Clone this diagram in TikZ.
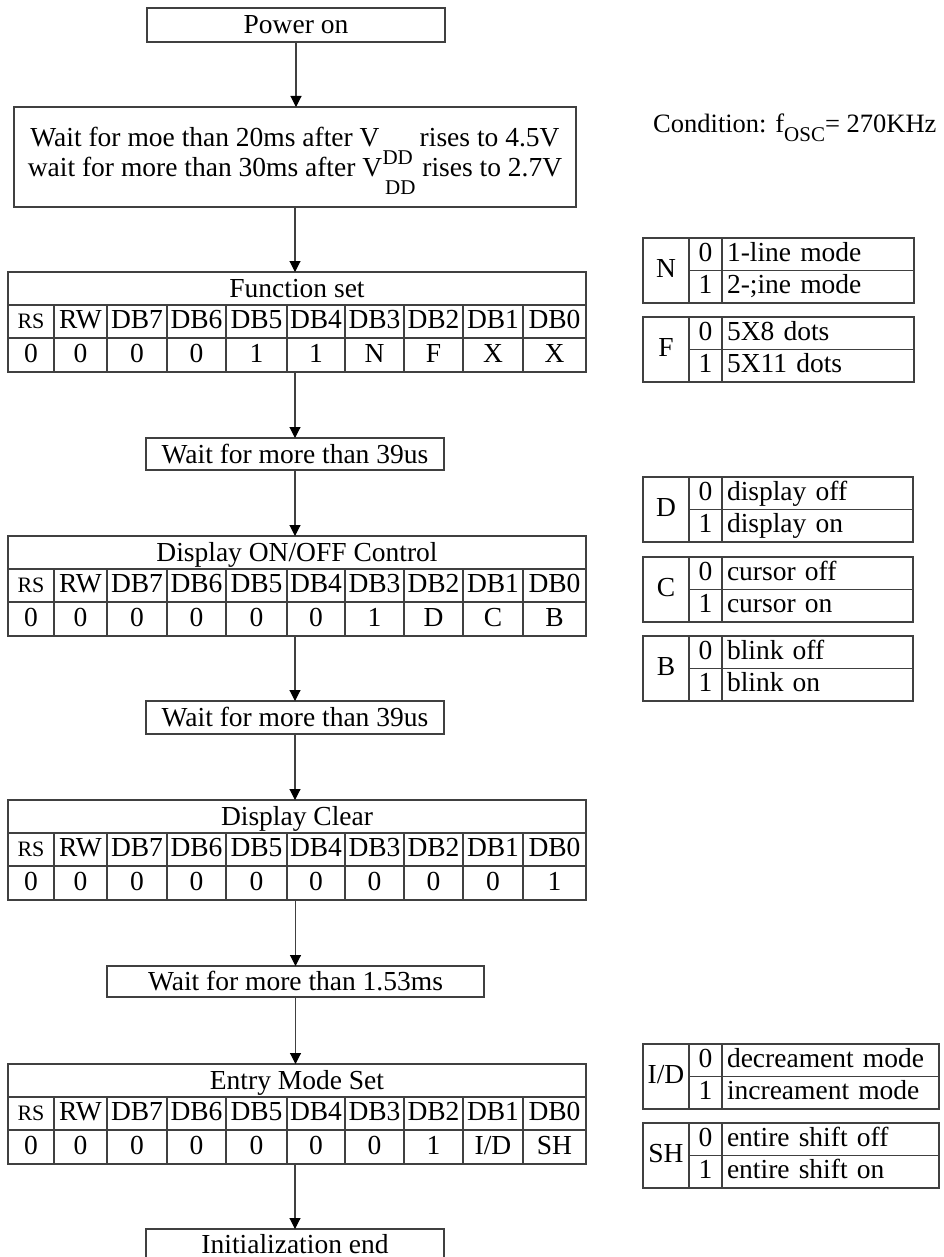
\documentclass[tikz,border=0pt]{standalone}
\usepackage{fontspec}
\setmainfont{Liberation Serif}
\usetikzlibrary{arrows.meta}
\newcommand\sub[2][9pt]{\raisebox{-#1}[0pt][0pt]{\fontsize{21pt}{21pt}\selectfont #2}}
\def\colx{{8,54,107,167,226,287,345,404,463,523,586}}

\begin{document}
\begin{tikzpicture}[x=1pt,y=-1pt,
    every node/.style={font=\fontsize{27.5pt}{30pt}\selectfont,inner sep=0pt},
    frame/.style={draw=black!75,line width=1.1pt,outer sep=0pt,anchor=north west},
    cell/.style={frame,minimum height=33pt,text height=19.5pt,text depth=5.5pt},
    title/.style={cell,text height=21pt,text depth=3pt},
    box/.style={title,minimum width=298pt},
    flow/.style={draw=black!75,line width=1.1pt,-{Triangle[width=11pt,length=11pt,color=black]}}]
\useasboundingbox (0,0) rectangle (944,1257);
\clip (0,0) rectangle (944,1257);
\node [box,minimum height=34pt] (pwr) at (147,8) {Power on};
\node [frame,minimum width=562pt,minimum height=100pt,align=center,text depth=10pt] (wait) at (14,107)
    {Wait for moe than 20ms after V\kern3pt\sub[18pt]{DD} rises to 4.5V\\wait for more than 30ms after V\kern3pt\sub[18pt]{DD} rises to 2.7V};
\node [anchor=base west,font=\fontsize{26.5pt}{30pt}\selectfont] (cond) at (653,133) {Condition: f\sub{OSC}= 270KHz};
\node [box,minimum height=32pt] (w39a) at (146,438) {Wait for more than 39us};
\node [box] (w39b) at (146,701) {Wait for more than 39us};
\node [box,minimum width=377pt,minimum height=31pt] (w153) at (107,966) {Wait for more than 1.53ms};
\node [box,text depth=5pt] (iend) at (146,1229) {Initialization end};
\foreach \t/\nm/\ttl/\vals in {
    272/fset/{Function set}/{0,0,0,0,1,1,N,F,X,X},
    536/dctl/{Display ON/OFF Control}/{0,0,0,0,0,0,1,D,C,B},
    800/dclr/{Display Clear}/{0,0,0,0,0,0,0,0,0,1},
    1064/emode/{Entry Mode Set}/{0,0,0,0,0,0,0,1,{I/D},SH}}{
    \node [title,minimum width=578pt] (\nm) at (8,\t) {\ttl};
    \foreach \h [count=\i] in {{\fontsize{22pt}{22pt}\selectfont RS},RW,DB7,DB6,DB5,DB4,DB3,DB2,DB1,DB0}{
        \pgfmathsetmacro\xa{\colx[\i-1]}
        \pgfmathsetmacro\cw{\colx[\i]-\colx[\i-1]}
        \node [cell,minimum width=\cw pt] (\nm-h\i) at (\xa,\t+33) {\h};
    }
    \foreach \v [count=\i] in \vals {
        \pgfmathsetmacro\xa{\colx[\i-1]}
        \pgfmathsetmacro\cw{\colx[\i]-\colx[\i-1]}
        \node [cell,minimum width=\cw pt,minimum height=34pt] (\nm-v\i) at (\xa,\t+66) {\v};
    }
}
\foreach \t/\nm/\k/\za/\zb/\r in {
    238/N/N/{1-line mode}/{2-;ine mode}/914,
    317/F/F/{5X8 dots}/{5X11 dots}/914,
    477/D/D/{display off}/{display on}/913,
    557/C/C/{cursor off}/{cursor on}/913,
    636/B/B/{blink off}/{blink on}/913,
    1044/ID/{I/D}/{decreament mode}/{increament mode}/939,
    1123/SH/SH/{entire shift off}/{entire shift on}/939}{
    \pgfmathsetmacro\tw{\r-732}
    \node [cell,minimum width=46pt,minimum height=65pt] (lg\nm) at (643,\t) {\k};
    \node [cell,minimum width=33pt,minimum height=32.5pt] (lg\nm-0) at (lg\nm.north east) {0};
    \node [cell,minimum width=33pt,minimum height=32.5pt] (lg\nm-1) at (lg\nm-0.south west) {1};
    \node [cell,minimum height=32.5pt,text width=\tw pt,inner xsep=5pt,align=left] (lg\nm-d0) at (lg\nm-0.north east) {\za};
    \node [cell,minimum height=32.5pt,text width=\tw pt,inner xsep=5pt,align=left] (lg\nm-d1) at (lg\nm-1.north east) {\zb};
}
\draw [flow] (pwr.south) -- (pwr.south |- wait.north);
\draw [flow] (wait.south) -- (wait.south |- fset.north);
\draw [flow] (w39a.north |- fset-v1.south) -- (w39a.north);
\draw [flow] (w39a.south) -- (w39a.south |- dctl.north);
\draw [flow] (w39b.north |- dctl-v1.south) -- (w39b.north);
\draw [flow] (w39b.south) -- (w39b.south |- dclr.north);
\draw [flow] (w153.north |- dclr-v1.south) -- (w153.north);
\draw [flow] (w153.south) -- (w153.south |- emode.north);
\draw [flow] (iend.north |- emode-v1.south) -- (iend.north);
\end{tikzpicture}
\end{document}
